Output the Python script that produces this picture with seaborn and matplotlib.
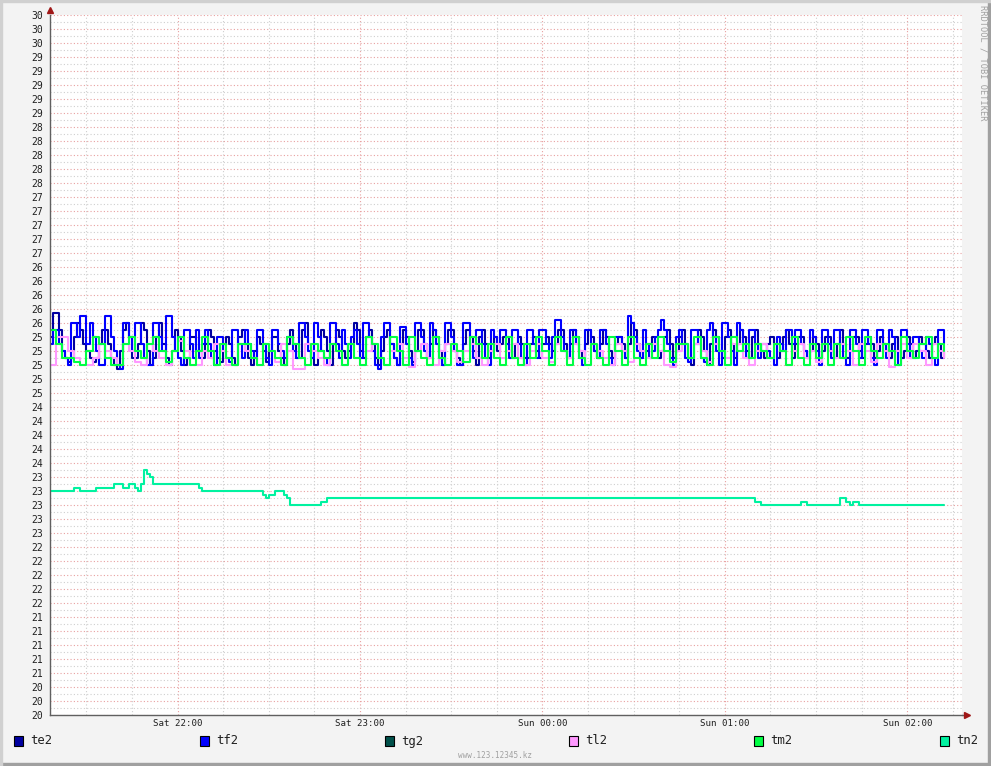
import matplotlib
matplotlib.use("Agg")
import matplotlib.pyplot as plt
import matplotlib.ticker as mticker
from matplotlib.patches import Rectangle
import seaborn as sns
import pandas as pd
import numpy as np

# ---- data (minutes since Sat 21:18) ----
te2 = [
    25.4, 25.75, 25.75, 25.5, 25.2, 25.1, 25.05, 25.1, 25.4, 25.6, 25.5, 25.3, 25.2, 25.1, 25.05, 25.1, 25.3, 25.5, 25.5, 25.3, 25.1, 25.0, 24.95, 25.2, 25.5, 25.6, 25.4, 25.1, 25.1, 25.3, 25.6, 25.5, 25.2, 25.0, 25.1, 25.4, 25.6, 25.3, 25.1, 25.0, 25.2, 25.5, 25.4, 25.2, 25.0, 25.1, 25.4, 25.4, 25.2,
    25.2, 25.1, 25.3, 25.5, 25.4, 25.2, 25.1, 25.05, 25.3, 25.4, 25.3, 25.1, 25.0, 25.4, 25.5, 25.3, 25.1, 25.0, 25.2, 25.4, 25.3, 25.2, 25.05, 25.2, 25.4, 25.4, 25.2, 25.1, 25.0, 25.3, 25.5, 25.3, 25.1, 25.1, 25.5, 25.6, 25.3, 25.1, 25.0, 25.2, 25.5, 25.4, 25.2, 25.0, 25.3, 25.5, 25.4, 25.2, 25.1,
    25.2, 25.3, 25.6, 25.5, 25.2, 25.1, 25.4, 25.5, 25.3, 25.1, 25.0, 25.2, 25.4, 25.5, 25.3, 25.1, 25.0, 25.3, 25.5, 25.4, 25.2, 25.05, 25.2, 25.5, 25.5, 25.3, 25.1, 25.3, 25.5, 25.4, 25.2, 25.0, 25.3, 25.5, 25.5, 25.2, 25.1, 25.0, 25.3, 25.5, 25.4, 25.2, 25.0, 25.4, 25.5, 25.3, 25.1, 25.2, 25.4,
    25.2, 25.3, 25.4, 25.4, 25.2, 25.1, 25.3, 25.4, 25.3, 25.1, 25.1, 25.3, 25.4, 25.2, 25.1, 25.3, 25.4, 25.3, 25.2, 25.3, 25.5, 25.5, 25.3, 25.1, 25.3, 25.5, 25.4, 25.2, 25.1, 25.3, 25.5, 25.4, 25.2, 25.1, 25.3, 25.5, 25.4, 25.2, 25.1, 25.3, 25.4, 25.3, 25.1, 25.3, 25.6, 25.5, 25.3, 25.1, 25.2,
    25.2, 25.3, 25.4, 25.3, 25.1, 25.2, 25.4, 25.5, 25.3, 25.1, 25.2, 25.4, 25.5, 25.3, 25.1, 25.0, 25.3, 25.5, 25.4, 25.2, 25.0, 25.3, 25.5, 25.4, 25.2, 25.1, 25.4, 25.5, 25.3, 25.1, 25.3, 25.5, 25.4, 25.2, 25.1, 25.4, 25.5, 25.3, 25.2, 25.1, 25.3, 25.4, 25.3, 25.1, 25.2, 25.4, 25.5, 25.3, 25.1,
    25.3, 25.4, 25.4, 25.2, 25.1, 25.2, 25.4, 25.3, 25.1, 25.2, 25.4, 25.4, 25.2, 25.1, 25.3, 25.5, 25.3, 25.1, 25.2, 25.4, 25.4, 25.2, 25.1, 25.3, 25.4, 25.3, 25.1, 25.2, 25.4, 25.3, 25.2, 25.1, 25.3, 25.4, 25.2, 25.1, 25.2, 25.4, 25.3, 25.1, 25.2, 25.4, 25.3, 25.2, 25.1, 25.3, 25.4, 25.3, 25.1, 25.2,
]
tf2 = [
    25.3, 25.5, 25.5, 25.3, 25.2, 25.1, 25.0, 25.6, 25.6, 25.4, 25.7, 25.7, 25.3, 25.6, 25.4, 25.2, 25.0, 25.0, 25.7, 25.7, 25.4, 25.2, 25.0, 24.95, 25.6, 25.6, 25.4, 25.2, 25.6, 25.6, 25.3, 25.1, 25.0, 25.0, 25.6, 25.6, 25.4, 25.2, 25.7, 25.7, 25.4, 25.2, 25.1, 25.0, 25.5, 25.5, 25.3, 25.1, 25.5,
    25.1, 25.3, 25.5, 25.3, 25.1, 25.0, 25.4, 25.4, 25.2, 25.1, 25.05, 25.5, 25.5, 25.3, 25.1, 25.5, 25.3, 25.2, 25.1, 25.5, 25.5, 25.3, 25.1, 25.0, 25.5, 25.5, 25.3, 25.2, 25.1, 25.4, 25.4, 25.2, 25.1, 25.6, 25.6, 25.4, 25.2, 25.1, 25.6, 25.4, 25.2, 25.1, 25.0, 25.6, 25.6, 25.3, 25.1, 25.5, 25.3,
    25.1, 25.4, 25.5, 25.3, 25.1, 25.6, 25.6, 25.4, 25.2, 25.0, 24.95, 25.4, 25.6, 25.6, 25.3, 25.1, 25.0, 25.55, 25.55, 25.3, 25.1, 25.0, 25.6, 25.6, 25.4, 25.2, 25.1, 25.6, 25.5, 25.3, 25.1, 25.0, 25.6, 25.6, 25.4, 25.2, 25.0, 25.0, 25.6, 25.6, 25.3, 25.1, 25.5, 25.5, 25.3, 25.1, 25.0, 25.5, 25.4,
    25.3, 25.5, 25.5, 25.3, 25.1, 25.5, 25.5, 25.3, 25.1, 25.0, 25.5, 25.5, 25.3, 25.1, 25.5, 25.5, 25.3, 25.1, 25.4, 25.65, 25.65, 25.4, 25.2, 25.1, 25.5, 25.5, 25.3, 25.1, 25.0, 25.5, 25.5, 25.3, 25.2, 25.1, 25.5, 25.5, 25.3, 25.1, 25.0, 25.4, 25.4, 25.2, 25.1, 25.7, 25.6, 25.4, 25.2, 25.1, 25.5,
    25.3, 25.1, 25.2, 25.4, 25.5, 25.65, 25.5, 25.3, 25.1, 25.0, 25.4, 25.5, 25.3, 25.1, 25.05, 25.5, 25.5, 25.3, 25.1, 25.05, 25.5, 25.6, 25.4, 25.2, 25.0, 25.6, 25.6, 25.4, 25.2, 25.0, 25.6, 25.5, 25.3, 25.1, 25.5, 25.5, 25.3, 25.1, 25.3, 25.3, 25.2, 25.1, 25.0, 25.4, 25.3, 25.2, 25.5, 25.5, 25.3,
    25.5, 25.5, 25.3, 25.2, 25.1, 25.5, 25.4, 25.2, 25.0, 25.5, 25.5, 25.3, 25.1, 25.5, 25.5, 25.3, 25.1, 25.0, 25.5, 25.5, 25.3, 25.1, 25.5, 25.5, 25.3, 25.1, 25.0, 25.5, 25.5, 25.3, 25.1, 25.5, 25.4, 25.2, 25.0, 25.5, 25.5, 25.3, 25.1, 25.4, 25.4, 25.2, 25.1, 25.4, 25.3, 25.1, 25.0, 25.5, 25.5, 25.3,
]
# two-minute samples
tl2 = [
    25.0, 25.4, 25.4, 25.2, 25.1, 25.0, 25.0, 25.1, 25.3, 25.2, 25.1, 25.0, 25.3, 25.2, 25.05, 25.0, 25.3, 25.2, 25.1, 25.0, 25.2, 25.35, 25.2, 25.0, 25.0,
    25.2, 25.1, 25.3, 25.2, 25.0, 25.0, 25.3, 25.2, 25.1, 25.0, 25.3, 25.2, 25.05, 25.3, 25.2, 24.95, 24.95, 25.3, 25.2, 25.1, 25.0, 25.3, 25.2, 25.0, 25.3,
    25.1, 25.0, 25.2, 25.3, 25.1, 25.0, 25.2, 25.3, 25.1, 24.97, 25.2, 25.3, 25.1, 25.0, 25.2, 25.3, 25.2, 25.05, 25.2, 25.3, 25.1, 25.0, 25.2, 25.3, 25.1,
    25.2, 25.3, 25.1, 25.0, 25.2, 25.3, 25.1, 25.05, 25.3, 25.2, 25.1, 25.3, 25.2, 25.0, 25.3, 25.2, 25.1, 25.0, 25.3, 25.2, 25.05, 25.3, 25.2, 25.1, 25.3,
    25.2, 25.0, 24.97, 25.2, 25.3, 25.1, 25.3, 25.2, 25.05, 25.3, 25.2, 25.1, 25.3, 25.3, 25.1, 25.0, 25.2, 25.3, 25.1, 25.3, 25.2, 25.0, 25.2, 25.3, 25.1,
    25.2, 25.05, 25.3, 25.2, 25.1, 25.3, 25.2, 25.0, 25.3, 25.2, 25.05, 25.3, 25.2, 24.97, 25.2, 25.3, 25.1, 25.3, 25.2, 25.0, 25.3, 25.2, 25.1,
]
tm2 = [
    25.5, 25.3, 25.1, 25.1, 25.05, 25.0, 25.2, 25.4, 25.3, 25.1, 25.0, 25.0, 25.3, 25.4, 25.2, 25.1, 25.3, 25.4, 25.2, 25.05, 25.2, 25.4, 25.1, 25.0, 25.2,
    25.4, 25.2, 25.0, 25.3, 25.1, 25.0, 25.3, 25.3, 25.1, 25.0, 25.3, 25.2, 25.1, 25.0, 25.4, 25.3, 25.1, 25.0, 25.3, 25.2, 25.1, 25.3, 25.2, 25.0, 25.3,
    25.1, 25.0, 25.4, 25.3, 25.1, 25.0, 25.4, 25.2, 25.0, 25.4, 25.2, 25.1, 25.0, 25.4, 25.1, 25.0, 25.3, 25.2, 25.05, 25.4, 25.3, 25.1, 25.3, 25.1, 25.0,
    25.4, 25.1, 25.0, 25.3, 25.1, 25.4, 25.2, 25.0, 25.4, 25.2, 25.0, 25.4, 25.1, 25.0, 25.3, 25.1, 25.0, 25.4, 25.2, 25.0, 25.4, 25.1, 25.0, 25.3, 25.1,
    25.4, 25.2, 25.05, 25.3, 25.3, 25.1, 25.4, 25.1, 25.0, 25.4, 25.2, 25.0, 25.4, 25.2, 25.3, 25.1, 25.3, 25.2, 25.1, 25.3, 25.2, 25.0, 25.4, 25.1, 25.0,
    25.3, 25.1, 25.3, 25.0, 25.3, 25.1, 25.4, 25.2, 25.0, 25.4, 25.2, 25.1, 25.3, 25.2, 25.0, 25.4, 25.2, 25.1, 25.3, 25.4, 25.1, 25.3, 25.2,
]
# tn2 changes rarely: (minute, value) step points
tn2_t = [0, 8, 10, 15, 21, 24, 26, 28, 29, 30, 31, 32, 33, 34, 49, 50, 70, 71, 72, 74, 77, 78, 79, 89, 91, 232, 234, 247, 249, 260, 262, 263, 264, 266, 294]
tn2_v = [23.2, 23.25, 23.2, 23.25, 23.3, 23.25, 23.3, 23.25, 23.2, 23.3, 23.5, 23.45, 23.4, 23.3, 23.25, 23.2, 23.15, 23.1, 23.15, 23.2, 23.15, 23.1, 23.0, 23.05, 23.1, 23.05, 23.0, 23.05, 23.0, 23.1, 23.05, 23.0, 23.05, 23.0, 23.0]

series = ["te2", "tf2", "tg2", "tl2", "tm2", "tn2"]
colors = ["#0000A0", "#0000FF", "#00504A", "#FF99FF", "#00FF44", "#00F2A0"]
xtick_labels = ["Sat 22:00", "Sat 23:00", "Sun 00:00", "Sun 01:00", "Sun 02:00"]
xtick_pos = [42, 102, 162, 222, 282]

frames = [
    pd.DataFrame({"t": np.arange(len(te2)), "v": te2, "s": "te2"}),
    pd.DataFrame({"t": np.arange(len(tf2)), "v": tf2, "s": "tf2"}),
    pd.DataFrame({"t": np.arange(len(tl2)) * 2, "v": tl2, "s": "tl2"}),
    pd.DataFrame({"t": np.arange(len(tm2)) * 2, "v": tm2, "s": "tm2"}),
    pd.DataFrame({"t": tn2_t, "v": tn2_v, "s": "tn2"}),
]
df = pd.concat(frames, ignore_index=True)

sns.set_style("white")
plt.rcParams["font.family"] = ["DejaVu Sans Mono"]

W, H = 991, 766
fig = plt.figure(figsize=(W / 100, H / 100), dpi=100, facecolor="#F3F3F3")

def fx(px):
    return px / W

def fy(py):
    return 1 - py / H

L, R, T, B = 50, 962, 15, 715
ax = fig.add_axes([fx(L), fy(B), fx(R) - fx(L), fy(T) - fy(B)])
ax.set_facecolor("white")

palette = dict(zip(series, colors))
sns.lineplot(data=df, x="t", y="v", hue="s", hue_order=["te2", "tf2", "tl2", "tm2", "tn2"],
             palette=palette, drawstyle="steps-post", estimator=None, sort=False,
             linewidth=1.5, legend=False, ax=ax)

ax.set_xlim(0, 300)
ax.set_ylim(20, 30)
ax.set_xlabel("")
ax.set_ylabel("")

ax.set_yticks(np.arange(20, 30.01, 0.2))
ax.set_yticks(np.arange(20.1, 30, 0.2), minor=True)
ax.yaxis.set_major_formatter(mticker.FormatStrFormatter("%.0f"))
ax.set_xticks(xtick_pos)
ax.set_xticklabels(xtick_labels)
ax.set_xticks([t for t in range(12, 300, 15) if t not in xtick_pos], minor=True)

ax.grid(which="major", color="#E8A0A0", linestyle=(0, (1, 2)), linewidth=0.8)
ax.grid(which="minor", color="#CFCFCF", linestyle=(0, (1, 2)), linewidth=0.8)
ax.set_axisbelow(True)

ax.tick_params(axis="both", which="both", direction="out", length=2, width=0.8,
               color="#707070", labelcolor="#202020")
ax.tick_params(axis="y", labelsize=7, pad=3)
ax.tick_params(axis="x", labelsize=6.6, pad=1)

for side in ["top", "right"]:
    ax.spines[side].set_visible(False)
for side in ["left", "bottom"]:
    ax.spines[side].set_color("#606060")
    ax.spines[side].set_linewidth(1.0)

# axis arrows
ax.plot([1.0, 1.0 + 3 / 912], [0, 0], transform=ax.transAxes, color="#606060", lw=1.0, clip_on=False)
ax.plot(1.0 + 5 / 912, 0, marker=">", markersize=5, color="#A01818", transform=ax.transAxes, clip_on=False)
ax.plot(0, 1.0 + 5 / 700, marker="^", markersize=5, color="#A01818", transform=ax.transAxes, clip_on=False)

# legend row
leg_x = [14, 200, 385, 569, 754, 940]
for name, col, lx in zip(series, colors, leg_x):
    fig.patches.append(Rectangle((fx(lx), fy(746)), fx(9), 10 / H, transform=fig.transFigure,
                                 facecolor=col, edgecolor="black", linewidth=0.8))
    fig.text(fx(lx + 16), fy(741), name, fontsize=8.8, color="#202020", va="center", ha="left")

fig.text(fx(495), fy(755), "www.123.12345.kz", fontsize=5.5, color="#A0A0A0", ha="center", va="center")
fig.text(fx(983), fy(5), "RRDTOOL / TOBI OETIKER", fontsize=6.2, color="#A0A0A0",
         rotation=270, ha="center", va="top")

# frame shading
fig.patches.append(Rectangle((0, 0), 1, 3 / H, transform=fig.transFigure, color="#A0A0A0"))
fig.patches.append(Rectangle((1 - 3 / W, 0), 3 / W, 1, transform=fig.transFigure, color="#A0A0A0"))
fig.patches.append(Rectangle((0, 1 - 2 / H), 1, 2 / H, transform=fig.transFigure, color="#D0D0D0"))
fig.patches.append(Rectangle((0, 0), 2 / W, 1, transform=fig.transFigure, color="#D0D0D0"))

fig.savefig("out.png", dpi=100, facecolor=fig.get_facecolor())
